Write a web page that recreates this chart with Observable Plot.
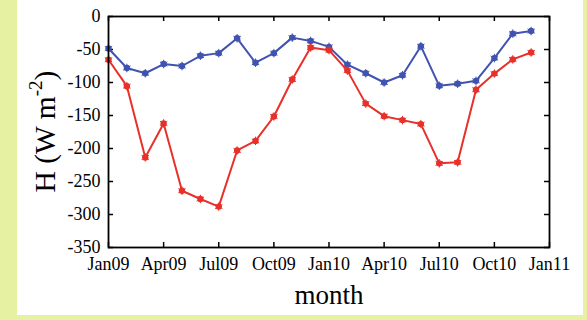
<!DOCTYPE html>
<html>
<head>
<meta charset="utf-8">
<script src="https://cdn.jsdelivr.net/npm/d3@7"></script>
<script src="https://cdn.jsdelivr.net/npm/@observablehq/plot@0.6"></script>
<style>
  html, body { margin: 0; padding: 0; }
  body { width: 587px; height: 320px; background: #e6f1a2; overflow: hidden; }
  #panel { position: absolute; left: 17px; top: 0; width: 566px; height: 315px; background: #fff; }
  #panel svg { display: block; }
  #panel svg text { font-family: "Liberation Serif", "Times New Roman", serif; }
</style>
</head>
<body>
<div id="panel"></div>
<script>
// Monthly index, Jan 2009 (0) through Dec 2010 (23)
const months = d3.range(24);

// Monthly mean sensible heat flux H (W m^-2)
const blueH = [-48.5, -78, -86, -72, -75, -59.5, -55.5, -33, -70, -55.5, -32, -37,
               -46, -73, -86, -100, -89, -45, -105, -102, -97.5, -63, -26, -22];
const redH = [-65.5, -105.5, -213.5, -162, -264, -276.5, -288, -203, -188.5, -151.5, -95.5, -47,
              -51, -82, -132, -151, -157, -163, -222.5, -221, -111, -86.5, -65, -54.5];

// Quarterly tick positions and labels
const xTicks = [0, 3, 6, 9, 12, 15, 18, 21, 24];
const xTickLabels = ["Jan09", "Apr09", "Jul09", "Oct09", "Jan10", "Apr10", "Jul10", "Oct10", "Jan11"];
const yTicks = [0, -50, -100, -150, -200, -250, -300, -350];

const blueData = months.map((m, i) => ({m, h: blueH[i]}));
const redData = months.map((m, i) => ({m, h: redH[i]}));

const SERIF = "'Liberation Serif', 'Times New Roman', serif";
const W = 566, H = 315;
const mL = 91, mR = 34, mT = 16, mB = 68;
const innerW = W - mL - mR, innerH = H - mT - mB;
const tick = 5;
const BLUE = "#4053b0", RED = "#e8302a";

// line + star-like marker for one series
const series = (data, color) => [
  Plot.line(data, {x: "m", y: "h", stroke: color, strokeWidth: 2}),
  Plot.dot(data, {x: "m", y: "h", fill: color, r: 3.2}),
  Plot.dot(data, {x: "m", y: "h", symbol: "asterisk", stroke: color, strokeWidth: 1, r: 4})
];

const chart = Plot.plot({
  width: W,
  height: H,
  marginLeft: mL,
  marginRight: mR,
  marginTop: mT,
  marginBottom: mB,
  style: {fontFamily: SERIF, background: "white", color: "black"},
  x: {domain: [0, 24]},
  y: {domain: [-350, 0]},
  marks: [
    Plot.axisX(xTicks, {tickSize: 0, tickPadding: 10, fontSize: 18, fontFamily: SERIF, label: null,
      tickFormat: (d) => xTickLabels[xTicks.indexOf(d)]}),
    Plot.axisY(yTicks, {tickSize: 0, tickPadding: 8, fontSize: 18, fontFamily: SERIF, label: null,
      tickFormat: (d) => String(d)}),
    // inward ticks on all four sides of the box
    Plot.tickX(xTicks, {x: (d) => d, insetTop: innerH - tick, stroke: "black", strokeWidth: 1.5}),
    Plot.tickX(xTicks, {x: (d) => d, insetBottom: innerH - tick, stroke: "black", strokeWidth: 1.5}),
    Plot.tickY(yTicks, {y: (d) => d, insetRight: innerW - tick, stroke: "black", strokeWidth: 1.5}),
    Plot.tickY(yTicks, {y: (d) => d, insetLeft: innerW - tick, stroke: "black", strokeWidth: 1.5}),
    ...series(blueData, BLUE),
    ...series(redData, RED),
    Plot.frame({stroke: "black", strokeWidth: 1.8}),
    Plot.text(["month"], {frameAnchor: "bottom", dy: 56, fontSize: 27, fontFamily: SERIF, textAnchor: "middle"})
  ]
});

// Rotated y-axis title with a superscript exponent
const svg = d3.select(chart);
const yTitle = svg.append("text")
  .attr("transform", `translate(${mL - 53},${mT + innerH / 2}) rotate(-90)`)
  .attr("text-anchor", "middle")
  .attr("font-size", 29.5)
  .attr("font-family", SERIF)
  .attr("fill", "black");
yTitle.append("tspan").text("H (W m");
yTitle.append("tspan").attr("font-size", 19).attr("dy", "-0.7em").text("-2");
yTitle.append("tspan").attr("dy", "0.45em").text(")");

document.getElementById("panel").appendChild(chart);
</script>
</body>
</html>
